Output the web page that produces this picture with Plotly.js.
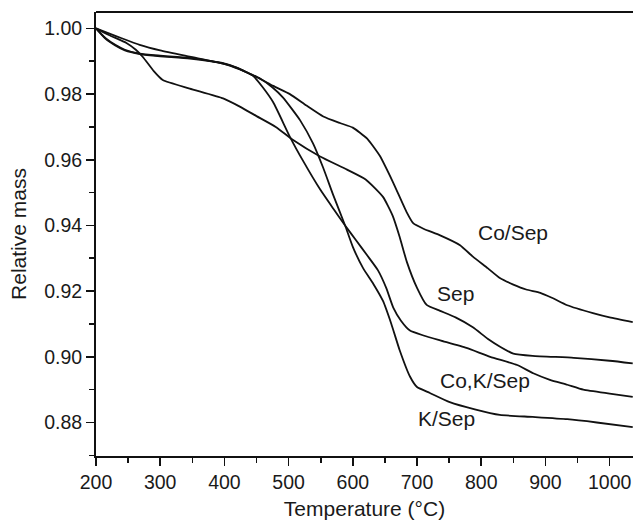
<!DOCTYPE html>
<html>
<head>
<meta charset="utf-8">
<script src="https://cdn.plot.ly/plotly-3.0.1.min.js"></script>
<style>html,body{margin:0;padding:0;background:#fff;}#chart{width:633px;height:520px;}</style>
</head>
<body>
<div id="chart"></div>
<script>
// Co/Sep
var coSepT = [200,220,240,268,300,346,398,424,450,476,502,528,554,580,600,622,642,663,684,694,710,736,767,787,810,829,850,870,892,910,934,974,1000,1036];
var coSepM = [1.000,0.9985,0.9970,0.9950,0.9933,0.9914,0.9893,0.9875,0.9852,0.9825,0.9800,0.9765,0.9732,0.9712,0.9698,0.9665,0.9612,0.9530,0.9440,0.9407,0.9390,0.9370,0.9340,0.9305,0.9270,0.9240,0.9220,0.9205,0.9195,0.9180,0.9157,0.9133,0.9120,0.9106];
// Sep
var sepT = [200,220,248,262,273,290,304,346,398,424,450,480,507,549,591,620,647,662,673,684,700,715,736,760,787,810,830,850,880,944,1000,1036];
var sepM = [1.000,0.9980,0.9955,0.9935,0.9913,0.9870,0.9843,0.9817,0.9787,0.9762,0.9733,0.9700,0.9660,0.9610,0.9570,0.9540,0.9487,0.9430,0.9365,0.9290,0.9210,0.9158,0.9140,0.9120,0.9090,0.9055,0.9030,0.9010,0.9003,0.8997,0.8988,0.8980];
// Co,K/Sep
var coKSepT = [200,215,230,245,268,300,346,398,420,445,460,476,502,523,549,570,588,605,622,639,652,663,675,689,710,736,777,814,856,881,907,934,959,1000,1036];
var coKSepM = [1.000,0.9970,0.9950,0.9935,0.9923,0.9917,0.9910,0.9894,0.9880,0.9855,0.9820,0.9775,0.9670,0.9595,0.9510,0.9450,0.9400,0.9355,0.9310,0.9264,0.9210,0.9150,0.9110,0.9080,0.9065,0.9050,0.9027,0.9000,0.8975,0.8950,0.8930,0.8915,0.8900,0.8888,0.8878];
// K/Sep
var kSepT = [200,215,230,245,268,300,346,398,420,440,455,475,491,505,518,538,554,570,588,600,616,632,647,660,673,689,700,720,751,790,829,880,934,980,1036];
var kSepM = [1.000,0.9968,0.9948,0.9933,0.9922,0.9915,0.9908,0.9893,0.9880,0.9862,0.9848,0.9820,0.9790,0.9755,0.9720,0.9650,0.9575,0.9490,0.9400,0.9335,0.9270,0.9222,0.9170,0.9100,0.9020,0.8940,0.8908,0.8890,0.8862,0.8840,0.8823,0.8817,0.8810,0.8800,0.8786];

var labels = ["Co/Sep","Sep","Co,K/Sep","K/Sep"];
var labelT = [850,760,806,746];
var labelM = [0.9380,0.9193,0.8929,0.8812];

var xTicks = [200,300,400,500,600,700,800,900,1000];
var yTicks = [0.88,0.90,0.92,0.94,0.96,0.98,1.00];

var lineStyle = {color:'#111', width:1.8, shape:'spline', smoothing:0.5};
var series = [[coSepT,coSepM,labels[0]],[sepT,sepM,labels[1]],[coKSepT,coKSepM,labels[2]],[kSepT,kSepM,labels[3]]];
var traces = series.map(function(s){
  return {x:s[0], y:s[1], name:s[2], type:'scatter', mode:'lines', line:lineStyle, hoverinfo:'skip'};
});

var font = {family:'"Liberation Sans", Arial, sans-serif', color:'#1a1a1a'};
var annotations = labels.map(function(t,i){
  return {x:labelT[i], y:labelM[i], xref:'x', yref:'y', text:t, showarrow:false,
          xanchor:'center', yanchor:'middle', font:{family:font.family, size:21, color:'#1a1a1a'}};
});

var layout = {
  width:633, height:520,
  margin:{l:96, r:0, t:12, b:64, pad:0},
  paper_bgcolor:'#fff', plot_bgcolor:'#fff',
  showlegend:false,
  font:font,
  xaxis:{
    range:[200,1036.4], tickvals:xTicks, ticktext:xTicks.map(String),
    ticks:'outside', ticklen:8, tickwidth:1.6, tickcolor:'#111',
    minor:{dtick:50, tick0:200, ticks:'outside', ticklen:5, tickwidth:1.6, tickcolor:'#111', showgrid:false},
    showline:true, linecolor:'#111', linewidth:2, showgrid:false, zeroline:false,
    tickfont:{size:19.5, color:'#1a1a1a', family:font.family},
    title:{text:'Temperature (°C)', font:{size:21, color:'#1a1a1a', family:font.family}, standoff:13}
  },
  yaxis:{
    range:[0.8698,1.005], tickvals:yTicks, ticktext:yTicks.map(function(v){return v.toFixed(2);}),
    ticks:'outside', ticklen:8, tickwidth:1.6, tickcolor:'#111',
    minor:{dtick:0.01, tick0:0.88, ticks:'outside', ticklen:5, tickwidth:1.6, tickcolor:'#111', showgrid:false},
    showline:true, linecolor:'#111', linewidth:2, showgrid:false, zeroline:false,
    tickfont:{size:19.5, color:'#1a1a1a', family:font.family},
    title:{text:'Relative mass', font:{size:21, color:'#1a1a1a', family:font.family}, standoff:12}
  },
  shapes:[{type:'line', xref:'paper', yref:'paper', x0:0, x1:1, y0:1, y1:1, line:{color:'#111', width:2}}],
  annotations:annotations
};

Plotly.newPlot('chart', traces, layout, {staticPlot:true, displayModeBar:false});
</script>
</body>
</html>
